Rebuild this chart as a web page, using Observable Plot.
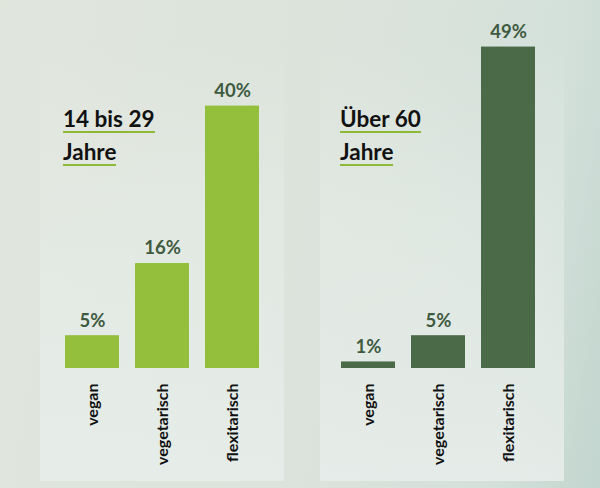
<!DOCTYPE html>
<html>
<head>
<meta charset="utf-8">
<script src="https://cdn.jsdelivr.net/npm/d3@7"></script>
<script src="https://cdn.jsdelivr.net/npm/@observablehq/plot@0.6"></script>
<style>
  html, body { margin: 0; padding: 0; }
  #wrap {
    position: relative; width: 600px; height: 488px; overflow: hidden;
    background: linear-gradient(100deg, #e1e6dd 0%, #dbe3dc 55%, #d3e0da 85%, #c2d5ce 100%);
    font-family: Lato, "Open Sans", sans-serif;
  }
  .panel {
    position: absolute; bottom: 7px; width: 244px; height: 440px;
    background: linear-gradient(to bottom, rgba(232,238,233,0) 0%, rgba(232,238,233,0.45) 40%, rgba(231,237,234,0.9) 100%);
  }
  .title {
    position: absolute; top: 102px; font-size: 22.5px; font-weight: 700; color: #111;
    line-height: 33px;
  }
  .title span { display: inline-block; line-height: 24px; border-bottom: 2px solid #8dba3a; }
  #chart { position: absolute; left: 0; top: 0; }
  #chart svg g[aria-label="x-axis tick label"] text { font-size: 16px; font-weight: 700; fill: #111; }
</style>
</head>
<body>
<div id="wrap">
  <div class="panel" style="left:40px"></div>
  <div class="panel" style="left:320px"></div>
  <div id="chart"></div>
  <div class="title" id="t0" style="left:63px"></div>
  <div class="title" id="t1" style="left:340px"></div>
</div>
<script>
const groups = ["14 bis 29 Jahre", "Über 60 Jahre"];
const titleLines = [["14 bis 29", "Jahre"], ["Über 60", "Jahre"]];
const categories = ["vegan", "vegetarisch", "flexitarisch"];
const youngValues = [5, 16, 40];
const oldValues = [1, 5, 49];
const groupColors = ["#93bf3c", "#4a6a48"];

const data = [
  ...categories.map((c, i) => ({group: groups[0], category: c, value: youngValues[i]})),
  ...categories.map((c, i) => ({group: groups[1], category: c, value: oldValues[i]}))
];

const chart = Plot.plot({
  width: 600,
  height: 488,
  marginLeft: 47,
  marginRight: 47,
  marginTop: 40,
  marginBottom: 120,
  style: {background: "transparent", fontFamily: "Lato, 'Open Sans', sans-serif", fontSize: "16px", color: "#111"},
  fx: {domain: groups, paddingInner: 0.173, paddingOuter: 0, axis: null},
  x: {domain: categories, padding: 0.225, label: null, tickRotate: -90, tickSize: 0, tickPadding: 15},
  y: {domain: [0, 50], axis: null},
  color: {domain: groups, range: groupColors},
  marks: [
    Plot.barY(data, {fx: "group", x: "category", y: "value", fill: "group"}),
    Plot.text(data, {fx: "group", x: "category", y: "value", text: d => d.value + "%",
      dy: -15, fill: "#3e5a3f", fontWeight: 700, fontSize: 18.5})
  ]
});
document.getElementById("chart").appendChild(chart);

titleLines.forEach((lines, i) => {
  const el = document.getElementById("t" + i);
  lines.forEach((l, j) => {
    const s = document.createElement("span");
    s.textContent = l;
    el.appendChild(s);
    if (j < lines.length - 1) el.appendChild(document.createElement("br"));
  });
});
</script>
</body>
</html>
